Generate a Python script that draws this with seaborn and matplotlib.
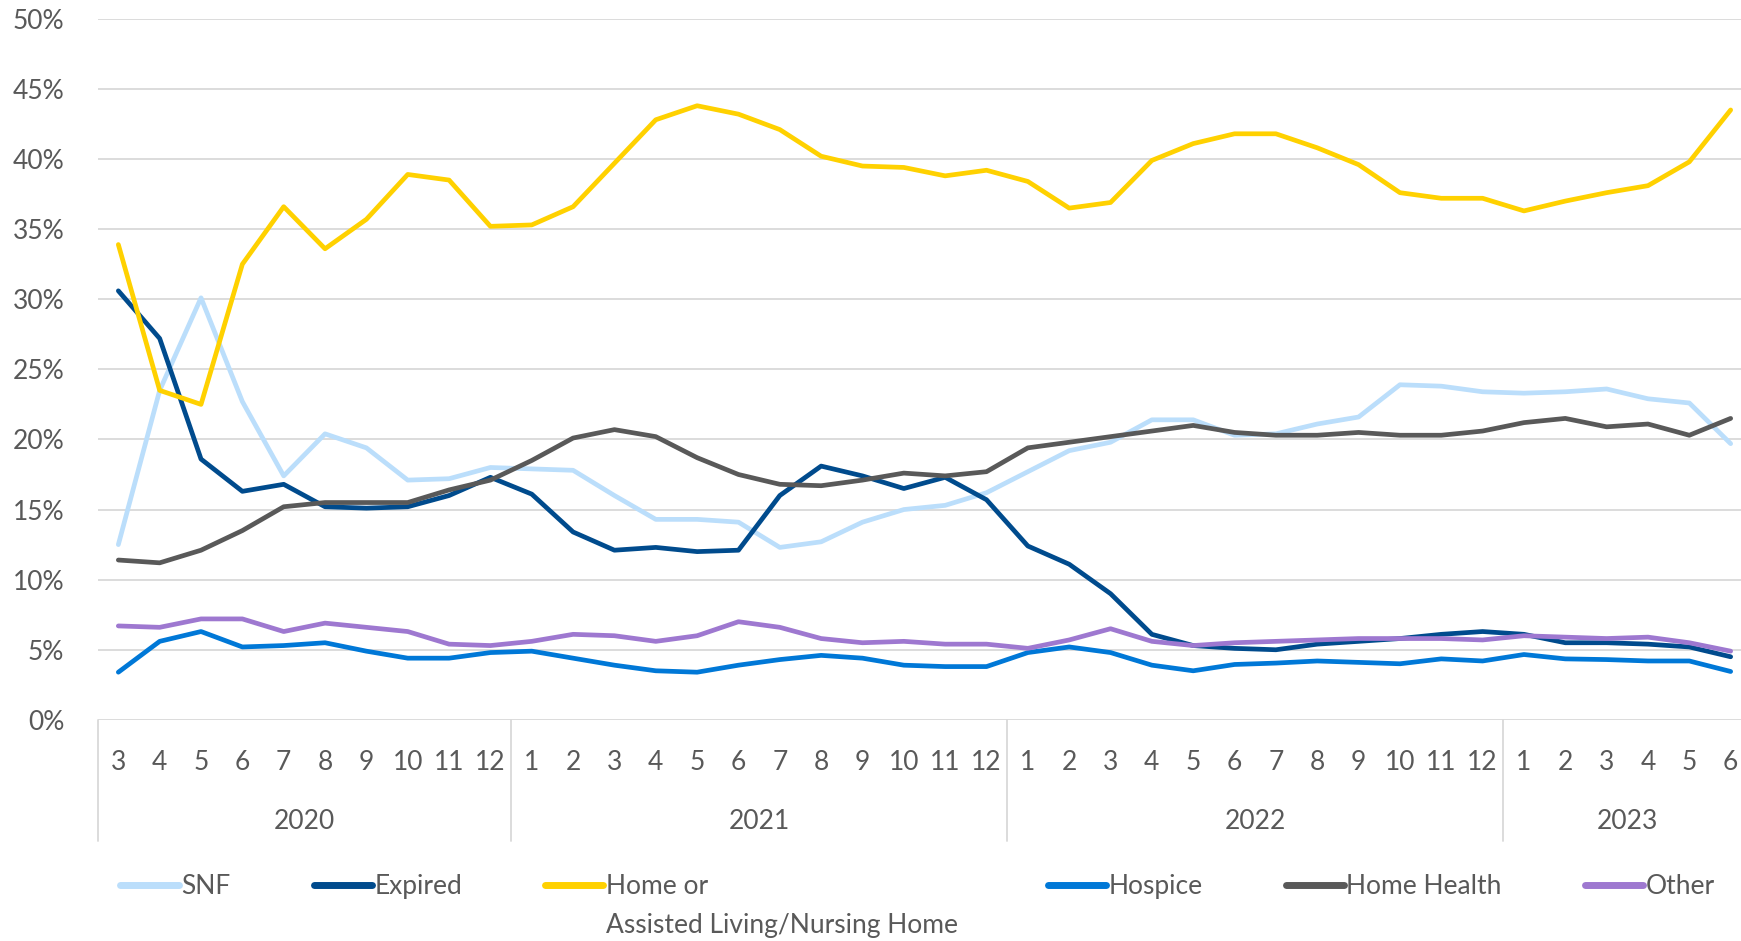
import numpy as np
import pandas as pd
import matplotlib
matplotlib.use("Agg")
import matplotlib.pyplot as plt
import matplotlib.transforms as mtransforms
import seaborn as sns

# months Mar 2020 .. Jun 2023
years = [2020] * 10 + [2021] * 12 + [2022] * 12 + [2023] * 6
months = list(range(3, 13)) + list(range(1, 13)) * 2 + list(range(1, 7))

snf = [12.5, 23.5, 30.1, 22.7, 17.4, 20.4, 19.4, 17.1, 17.2, 18.0,
       17.9, 17.8, 16.0, 14.3, 14.3, 14.1, 12.3, 12.7, 14.1, 15.0, 15.3, 16.2,
       17.7, 19.2, 19.8, 21.4, 21.4, 20.3, 20.4, 21.1, 21.6, 23.9, 23.8, 23.4, 23.3, 23.4,
       23.6, 22.9, 22.6, 19.7]
expired = [30.6, 27.2, 18.6, 16.3, 16.8, 15.2, 15.1, 15.2, 16.0, 17.3,
           16.1, 13.4, 12.1, 12.3, 12.0, 12.1, 16.0, 18.1, 17.4, 16.5, 17.3, 15.7,
           12.4, 11.1, 9.0, 6.1, 5.3, 5.1, 5.0, 5.4, 5.6, 5.8, 6.1, 6.3, 6.1, 5.5,
           5.5, 5.4, 5.2, 4.5]
home = [33.9, 23.5, 22.5, 32.5, 36.6, 33.6, 35.7, 38.9, 38.5, 35.2,
        35.3, 36.6, 39.7, 42.8, 43.8, 43.2, 42.1, 40.2, 39.5, 39.4, 38.8, 39.2,
        38.4, 36.5, 36.9, 39.9, 41.1, 41.8, 41.8, 40.8, 39.6, 37.6, 37.2, 37.2,
        36.3, 37.0, 37.6, 38.1, 39.8, 43.5]
hospice = [3.4, 5.6, 6.3, 5.2, 5.3, 5.5, 4.9, 4.4, 4.4, 4.8,
           4.9, 4.4, 3.9, 3.5, 3.4, 3.9, 4.3, 4.6, 4.4, 3.9, 3.8, 3.8,
           4.8, 5.2, 4.8, 3.9, 3.5, 3.95, 4.05, 4.2, 4.1, 4.0, 4.35, 4.2,
           4.66, 4.35, 4.3, 4.2, 4.2, 3.45]
home_health = [11.4, 11.2, 12.1, 13.5, 15.2, 15.5, 15.5, 15.5, 16.4, 17.1,
               18.5, 20.1, 20.7, 20.2, 18.7, 17.5, 16.8, 16.7, 17.1, 17.6, 17.4, 17.7,
               19.4, 19.8, 20.2, 20.6, 21.0, 20.5, 20.3, 20.3, 20.5, 20.3, 20.3, 20.6,
               21.2, 21.5, 20.9, 21.1, 20.3, 21.5]
other = [6.7, 6.6, 7.2, 7.2, 6.3, 6.9, 6.6, 6.3, 5.4, 5.3,
         5.6, 6.1, 6.0, 5.6, 6.0, 7.0, 6.6, 5.8, 5.5, 5.6, 5.4, 5.4,
         5.1, 5.7, 6.5, 5.6, 5.3, 5.5, 5.6, 5.7, 5.8, 5.8, 5.8, 5.7,
         6.0, 5.9, 5.8, 5.9, 5.5, 4.9]

series_names = ["SNF", "Expired", "Home or", "Hospice", "Home Health", "Other"]
home_line2 = "Assisted Living/Nursing Home"
series_vals = [snf, expired, home, hospice, home_health, other]
colors = ["#BBDEFB", "#004B8D", "#FFD100", "#0078D7", "#595959", "#9E78D0"]

idx = np.arange(len(months))
df = pd.concat(
    [pd.DataFrame({"i": idx, "value": v, "series": n}) for n, v in zip(series_names, series_vals)],
    ignore_index=True,
)

sns.set_style("white")
plt.rcParams["font.family"] = ["Lato", "DejaVu Sans"]
TXT = "#595959"
FS = 19

fig = plt.figure(figsize=(17.41, 9.41), dpi=100)
ax = fig.add_axes([0.0561, 0.235, 0.9439, 0.745])

sns.lineplot(data=df, x="i", y="value", hue="series", palette=colors,
             linewidth=3.4, sort=False, ax=ax, legend=True)

ax.set_ylim(0, 50)
ax.set_xlim(-0.5, 39.25)
ax.set_yticks(np.arange(0, 51, 5))
ax.set_yticklabels([f"{v}%" for v in range(0, 51, 5)], fontsize=FS, color=TXT)
ax.yaxis.grid(True, color="#D9D9D9", linewidth=1.3)
ax.set_axisbelow(True)
for s in ax.spines.values():
    s.set_visible(False)
ax.tick_params(axis="y", length=0, pad=24)
ax.set_xticks(idx)
ax.set_xticklabels([str(m) for m in months], fontsize=FS, color=TXT)
ax.tick_params(axis="x", length=0, pad=22)
ax.set_xlabel("")
ax.set_ylabel("")

# year groups of the category axis
trans = mtransforms.blended_transform_factory(ax.transData, ax.transAxes)
yrs = np.array(years)
bounds = []
for y in sorted(set(years)):
    pos = idx[yrs == y]
    ax.text(pos.mean(), -0.145, str(y), transform=trans, ha="center", va="center",
            fontsize=FS, color=TXT)
    bounds.append(pos.min() - 0.5)
for b in bounds:
    ax.plot([b, b], [0, -0.173], transform=trans, color="#D9D9D9", lw=1.3, clip_on=False)

# pad the "Home or" label so its column is as wide as the second line
renderer = fig.canvas.get_renderer()
def text_w(s):
    t = fig.text(0, 0, s, fontsize=FS)
    w = t.get_window_extent(renderer).width
    t.remove()
    return w
pad_n = int(np.ceil((text_w(home_line2) - text_w("Home or")) / text_w("\u00a0")))

handles, labels = ax.get_legend_handles_labels()
ax.get_legend().remove()
labels = [l + "\u00a0" * pad_n if l == "Home or" else l for l in labels]
leg = fig.legend(handles, labels, loc="center", bbox_to_anchor=(0.527, 0.058),
                 ncol=6, frameon=False, fontsize=FS, handlelength=2.2,
                 handletextpad=0.1, columnspacing=3.15, borderpad=0)
for t in leg.get_texts():
    t.set_color(TXT)
for h in leg.legend_handles:
    h.set_linewidth(5)

fig.canvas.draw()
home_txt = leg.get_texts()[2]
bb = home_txt.get_window_extent(renderer)
x0, y0 = fig.transFigure.inverted().transform((bb.x0, bb.y0 - 39))
fig.text(x0, y0, home_line2, fontsize=FS, color=TXT, ha="left", va="bottom")

fig.savefig("out.png", dpi=100)
